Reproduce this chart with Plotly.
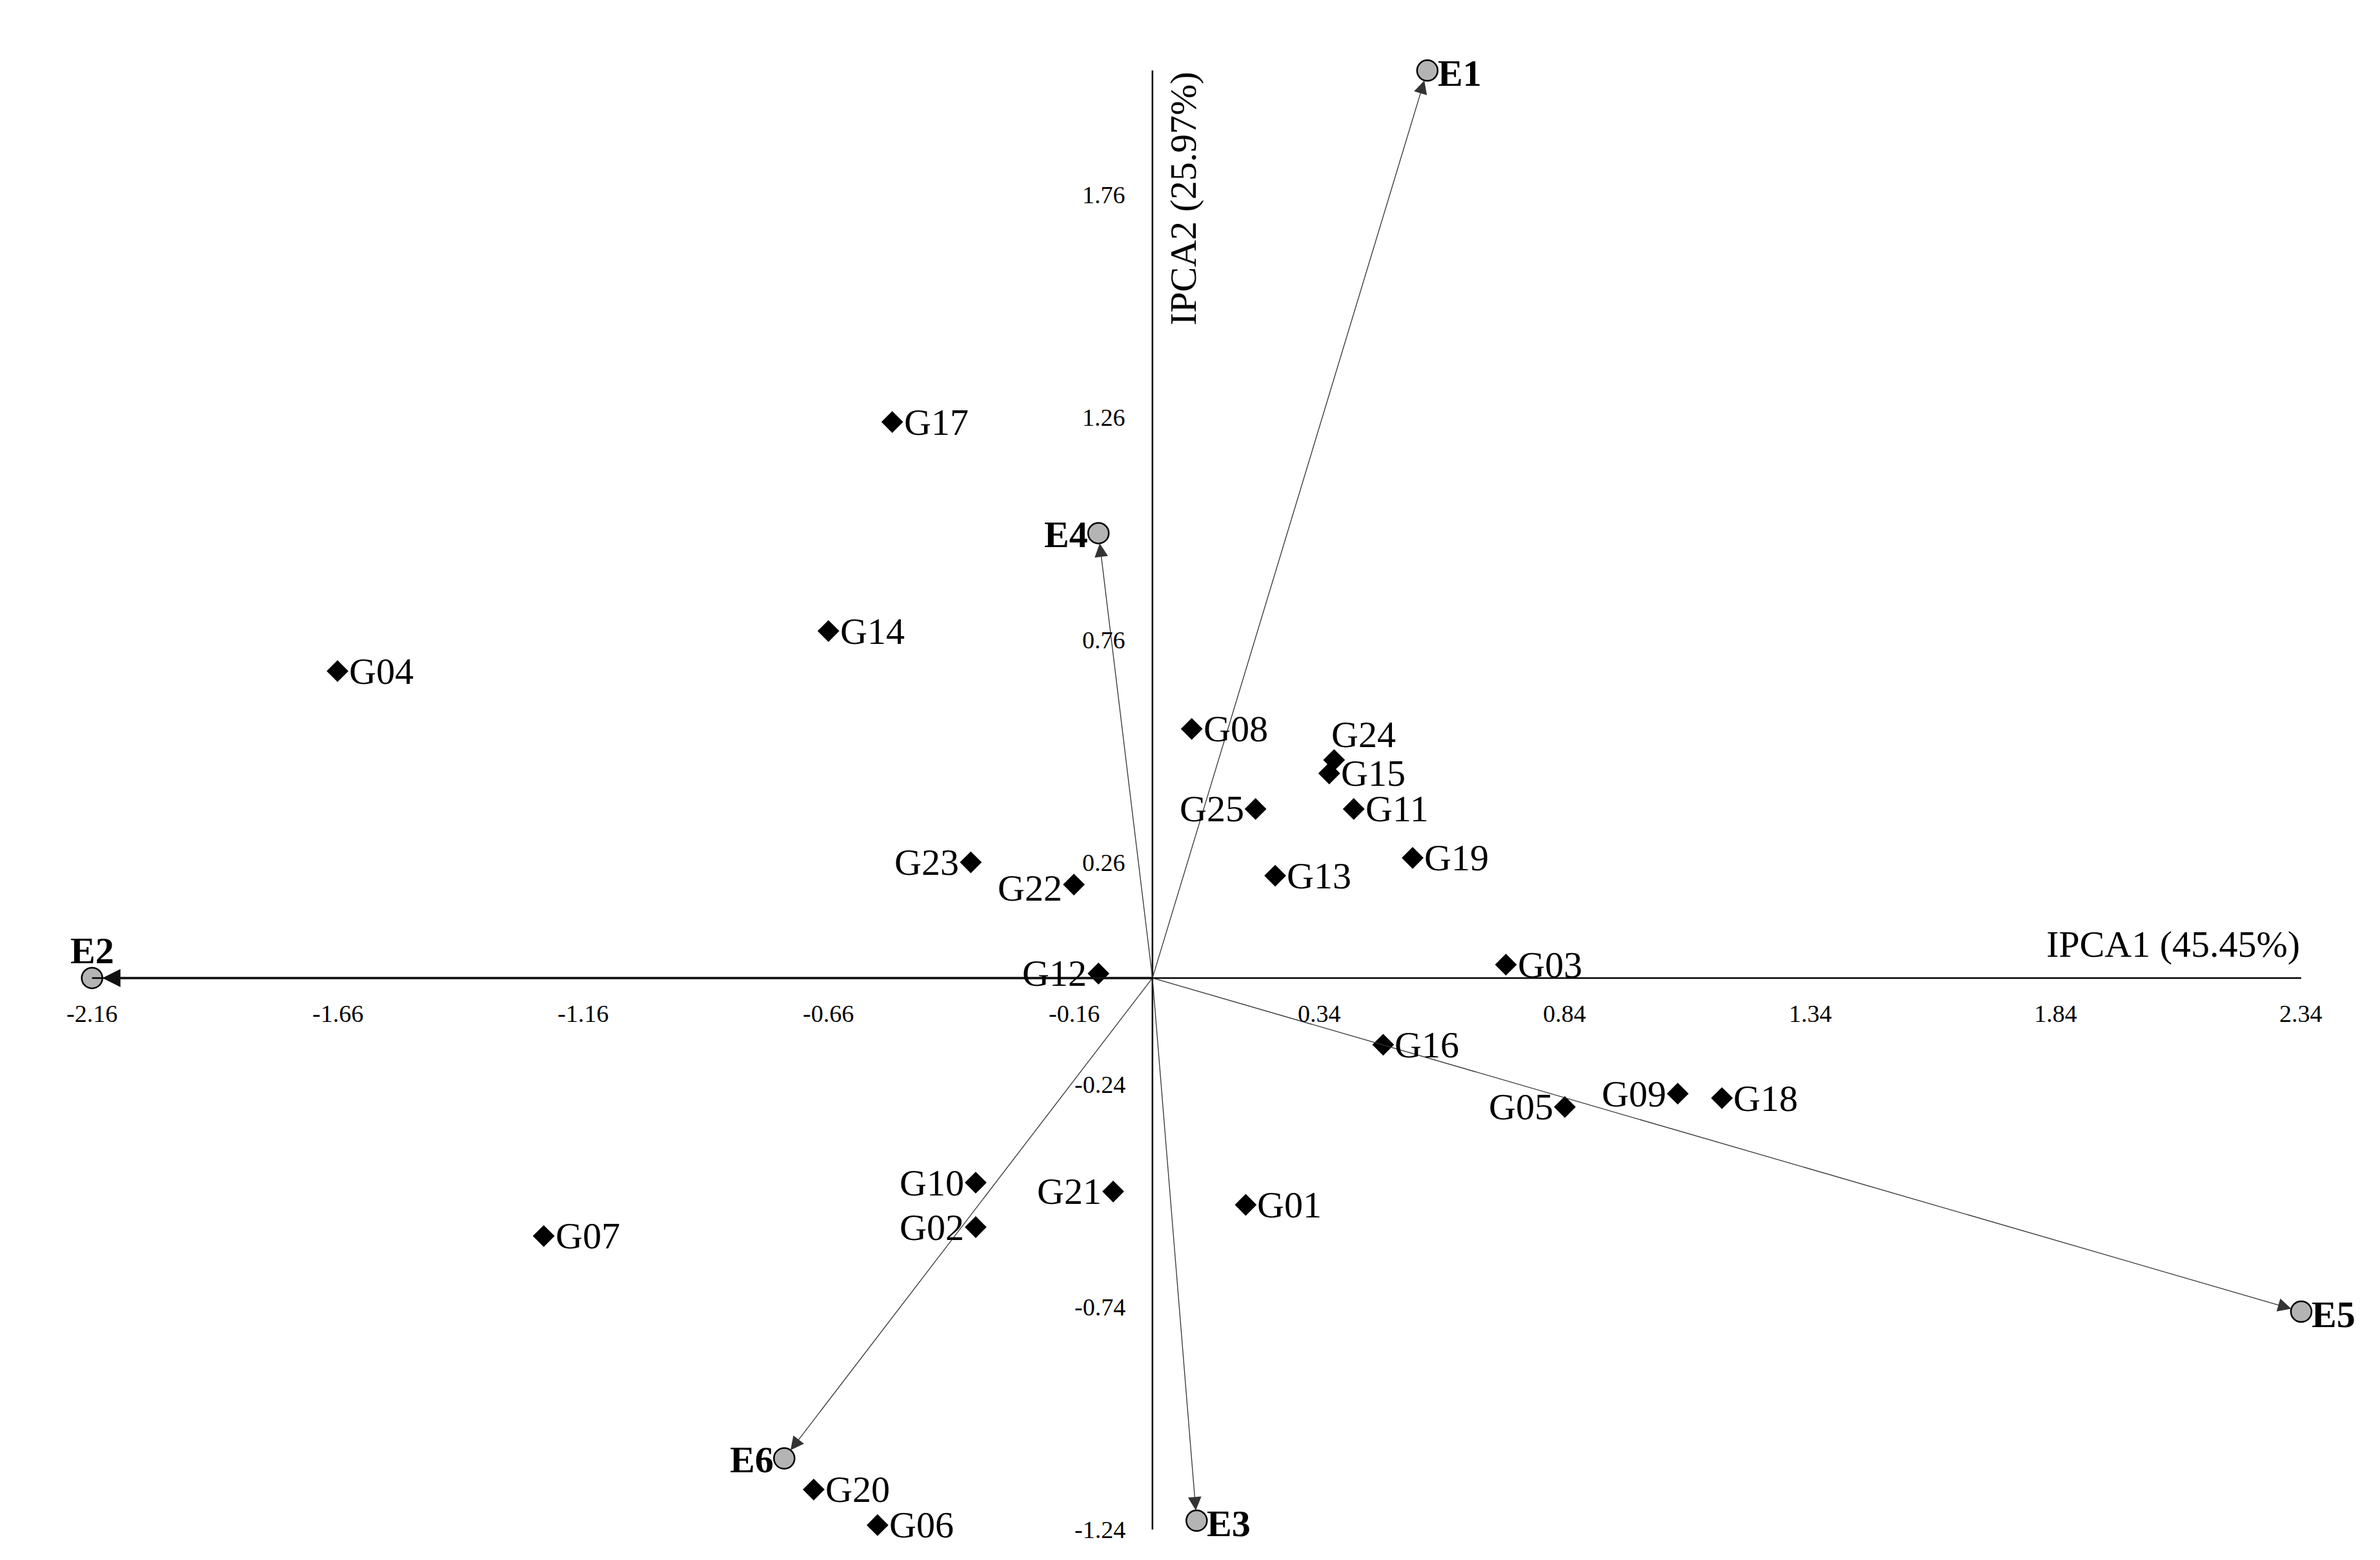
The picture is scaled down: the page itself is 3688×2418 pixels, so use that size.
import plotly.graph_objects as go

env_names = ["E1","E2","E3","E4","E5","E6"]
env_x = [0.56,-2.16,0.09,-0.11,2.34,-0.75]
env_y = [2.04,0.0,-1.22,1.00,-0.75,-1.08]
env_pos = ["right","top","right","left","right","left"]

gen_names = ["G17","G14","G04","G08","G24","G15","G25","G11","G19","G13","G23","G22","G12","G03",
             "G16","G05","G09","G18","G10","G21","G02","G01","G07","G20","G06"]
gen_x = [-0.53,-0.66,-1.66,0.08,0.37,0.36,0.21,0.41,0.53,0.25,-0.37,-0.16,-0.11,0.72,
         0.47,0.84,1.07,1.16,-0.36,-0.08,-0.36,0.19,-1.24,-0.69,-0.56]
gen_y = [1.25,0.78,0.69,0.56,0.49,0.46,0.38,0.38,0.27,0.23,0.26,0.21,0.01,0.03,
         -0.15,-0.29,-0.26,-0.27,-0.46,-0.48,-0.56,-0.51,-0.58,-1.15,-1.23]
gen_pos = ["right","right","right","right","topright","right","left","right","right","right","left","leftdown","left","right",
           "right","left","left","right","left","left","left","right","right","right","right"]

x_ticks = [-2.16,-1.66,-1.16,-0.66,-0.16,0.34,0.84,1.34,1.84,2.34]
y_ticks = [-1.24,-0.74,-0.24,0.26,0.76,1.26,1.76]

font = "Liberation Serif"
fig = go.Figure()
ann = []
shapes = [
    dict(type="line", x0=-2.16, x1=2.34, y0=0, y1=0, line=dict(color="black", width=2.5)),
    dict(type="line", x0=0, x1=0, y0=-1.24, y1=2.04, line=dict(color="black", width=2.5)),
]
for n, x, y in zip(env_names, env_x, env_y):
    w = 3.5 if n == "E2" else 1.3
    ann.append(dict(x=x, y=y, ax=0, ay=0, xref="x", yref="y", axref="x", ayref="y",
                    showarrow=True, arrowhead=2, arrowsize=3.2 if n != "E2" else 1.6,
                    arrowwidth=w, arrowcolor="#111" if n == "E2" else "#333",
                    standoff=16, text=""))
fig.add_trace(go.Scatter(x=gen_x, y=gen_y, mode="markers",
                         marker=dict(symbol="diamond", size=26, color="black")))
fig.add_trace(go.Scatter(x=env_x, y=env_y, mode="markers",
                         marker=dict(symbol="circle", size=32, color="#b4b4b4",
                                     line=dict(color="black", width=2.5))))
for n, x, y, p in zip(gen_names, gen_x, gen_y, gen_pos):
    d = dict(x=x, y=y, text=n, showarrow=False, font=dict(family=font, size=58, color="black"))
    if p == "right": d.update(xanchor="left", xshift=16)
    elif p == "left": d.update(xanchor="right", xshift=-16)
    elif p == "topright": d.update(xanchor="left", xshift=-6, yshift=40)
    elif p == "leftdown": d.update(xanchor="right", xshift=-16, yshift=-5)
    ann.append(d)
for n, x, y, p in zip(env_names, env_x, env_y, env_pos):
    d = dict(x=x, y=y, text="<b>"+n+"</b>", showarrow=False, font=dict(family=font, size=58, color="black"))
    if p == "right": d.update(xanchor="left", xshift=14, yshift=-4)
    elif p == "left": d.update(xanchor="right", xshift=-14, yshift=-2)
    else: d.update(yshift=42)
    ann.append(d)
for t in x_ticks:
    ann.append(dict(x=t, y=0, text=f"{t:.2f}", showarrow=False, yanchor="top", yshift=-32,
                    font=dict(family=font, size=38, color="black")))
for t in y_ticks:
    ann.append(dict(x=0, y=t, text=f"{t:.2f}", showarrow=False, xanchor="right", xshift=-40,
                    font=dict(family=font, size=38, color="black")))
ann.append(dict(x=2.34, y=0, text="IPCA1 (45.45%)", showarrow=False, xanchor="right", yanchor="bottom",
                yshift=18, font=dict(family=font, size=58, color="black")))
ann.append(dict(x=0, y=2.04, text="IPCA2 (25.97%)", showarrow=False, textangle=-90, xanchor="left",
                yanchor="top", xshift=14, font=dict(family=font, size=58, color="black")))

fig.update_layout(width=3688, height=2418, margin=dict(l=0, r=0, t=0, b=0),
                  plot_bgcolor="white", paper_bgcolor="white", showlegend=False,
                  annotations=ann, shapes=shapes,
                  xaxis=dict(range=[-2.337, 2.511], visible=False),
                  yaxis=dict(range=[-1.32, 2.187], visible=False))
fig.write_html("out.html")
